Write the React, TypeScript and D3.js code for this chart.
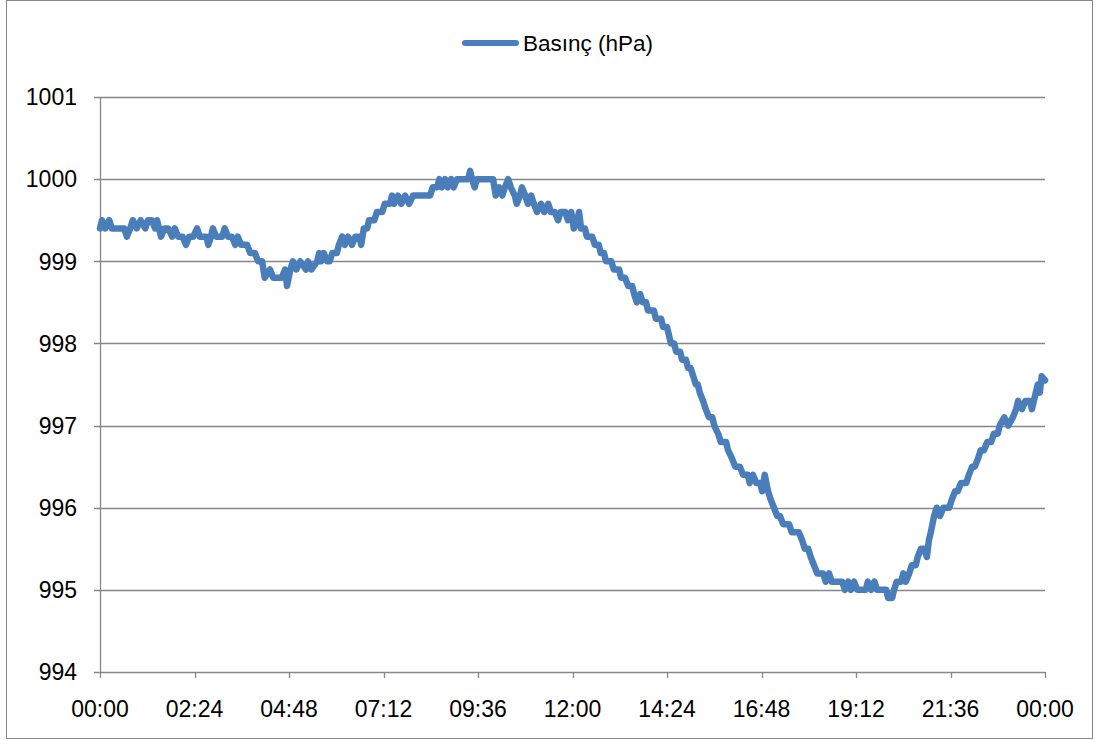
import React from "react";
import * as d3 from "d3";

// Time of day in minutes since 00:00
const minutes = [
  0, 3, 8, 14, 18, 27, 37, 41, 46, 50, 56, 62, 69, 73, 79, 84, 87, 90, 93, 98,
  104, 110, 114, 119, 126, 131, 136, 142, 148, 152, 162, 165, 169, 172, 177, 186, 190, 195, 201, 206,
  210, 215, 224, 229, 236, 241, 247, 251, 259, 264, 277, 282, 285, 290, 294, 299, 305, 314, 317, 322,
  331, 334, 337, 341, 346, 350, 354, 361, 364, 369, 373, 378, 384, 389, 395, 398, 402, 407, 410, 418,
  422, 430, 434, 442, 445, 448, 454, 459, 465, 471, 477, 503, 507, 514, 517, 521, 526, 530, 535, 539,
  544, 561, 564, 567, 571, 574, 599, 603, 608, 613,
  617, 622, 626, 632, 635, 640, 643, 648, 652, 657, 661, 666, 672, 677, 683, 687, 693, 698, 702, 709,
  713, 718, 722, 727, 730, 733, 739, 742, 750, 754, 760, 763, 768, 771, 779, 783, 791, 794, 800, 805,
  811, 814, 818, 823, 827, 832, 835, 844, 847, 850, 855, 858, 864, 867, 870, 875, 878, 884, 887,
  893, 896, 900, 904, 908, 911, 914, 919, 923, 928, 933, 936, 942, 946, 954, 957, 963, 968, 975, 980,
  987, 990, 995, 1000, 1006, 1009, 1013, 1018, 1022, 1027, 1032, 1036, 1041, 1050, 1054, 1065, 1070, 1074, 1079, 1083,
  1088, 1093, 1102, 1106, 1111, 1115, 1131, 1135, 1140, 1144, 1149, 1154, 1167, 1170, 1175, 1180, 1184, 1198, 1201, 1207,
  1210, 1214, 1221, 1224, 1228, 1233, 1237, 1243, 1246, 1251, 1256, 1260, 1263, 1266, 1271, 1275, 1280, 1285, 1294, 1298,
  1303, 1307, 1312, 1320, 1324, 1329, 1333, 1338, 1342, 1347, 1352, 1358, 1362, 1368, 1371, 1378, 1384, 1391, 1396, 1399,
  1405, 1410, 1417, 1420, 1423, 1426, 1429, 1432, 1435, 1440,
];

// Pressure (hPa)
const pressure = [
  999.4, 999.5, 999.4, 999.5, 999.4, 999.4, 999.4, 999.3, 999.4, 999.5, 999.4, 999.5, 999.4, 999.5, 999.5, 999.4, 999.5, 999.4, 999.3, 999.4,
  999.4, 999.3, 999.4, 999.3, 999.3, 999.2, 999.3, 999.3, 999.4, 999.3, 999.3, 999.2, 999.3, 999.4, 999.3, 999.3, 999.4, 999.3, 999.3, 999.2,
  999.3, 999.2, 999.2, 999.1, 999.1, 999.0, 999.0, 998.8, 998.9, 998.8, 998.8, 998.9, 998.7, 998.9, 999.0, 998.9, 999.0, 998.9, 999.0, 998.9,
  999.0, 999.1, 999.0, 999.1, 999.0, 999.0, 999.1, 999.1, 999.2, 999.3, 999.2, 999.3, 999.2, 999.3, 999.3, 999.2, 999.4, 999.4, 999.5, 999.5,
  999.6, 999.6, 999.7, 999.7, 999.8, 999.7, 999.8, 999.7, 999.8, 999.7, 999.8, 999.8, 999.9, 999.9, 1000.0, 999.9, 1000.0, 999.9, 1000.0, 999.9,
  1000.0, 1000.0, 1000.1, 1000.0, 999.9, 1000.0, 1000.0, 999.8, 999.9, 999.8,
  999.9, 1000.0, 999.9, 999.8, 999.7, 999.8, 999.9, 999.8, 999.7, 999.8, 999.7, 999.6, 999.7, 999.6, 999.7, 999.6, 999.6, 999.5, 999.6, 999.6,
  999.5, 999.6, 999.4, 999.5, 999.6, 999.4, 999.4, 999.3, 999.3, 999.2, 999.2, 999.1, 999.1, 999.0, 999.0, 998.9, 998.9, 998.8, 998.8, 998.7,
  998.7, 998.6, 998.5, 998.6, 998.5, 998.5, 998.4, 998.4, 998.3, 998.3, 998.3, 998.2, 998.2, 998.1, 998.0, 998.0, 997.9, 997.9, 997.8,
  997.8, 997.7, 997.7, 997.6, 997.5, 997.5, 997.4, 997.3, 997.2, 997.1, 997.1, 997.0, 996.9, 996.8, 996.8, 996.7, 996.6, 996.5, 996.5, 996.4,
  996.4, 996.3, 996.4, 996.3, 996.3, 996.2, 996.4, 996.2, 996.1, 996.0, 995.9, 995.9, 995.8, 995.8, 995.7, 995.7, 995.6, 995.5, 995.5, 995.4,
  995.3, 995.2, 995.2, 995.1, 995.2, 995.1, 995.1, 995.0, 995.1, 995.0, 995.1, 995.0, 995.0, 995.1, 995.0, 995.1, 995.0, 995.0, 994.9, 994.9,
  995.0, 995.1, 995.1, 995.2, 995.1, 995.2, 995.3, 995.3, 995.4, 995.5, 995.5, 995.4, 995.6, 995.7, 995.9, 996.0, 995.9, 996.0, 996.0, 996.1,
  996.2, 996.2, 996.3, 996.3, 996.4, 996.5, 996.5, 996.6, 996.7, 996.7, 996.8, 996.8, 996.9, 996.9, 997.0, 997.1, 997.0, 997.1, 997.2, 997.3,
  997.2, 997.3, 997.3, 997.2, 997.3, 997.4, 997.5, 997.4, 997.6, 997.55,
];

const yTicks = [994, 995, 996, 997, 998, 999, 1000, 1001];
const xTickMinutes = [0, 144, 288, 432, 576, 720, 864, 1008, 1152, 1296, 1440];
const xTickLabels = ["00:00", "02:24", "04:48", "07:12", "09:36", "12:00", "14:24", "16:48", "19:12", "21:36", "00:00"];
const seriesName = "Basınç (hPa)";

const W = 1099;
const H = 740;
const plot = { left: 100, right: 1045, top: 97, bottom: 672 };
const FONT = "'Liberation Sans', Arial, sans-serif";
const GRID = "#878787";
const BLUE = "#4a7ebb";

export default function App() {
  const x = d3.scaleLinear().domain([0, 1440]).range([plot.left, plot.right]);
  const y = d3.scaleLinear().domain([994, 1001]).range([plot.bottom, plot.top]);
  const data = minutes.map((m, i) => [m, pressure[i]] as [number, number]);
  const line = d3
    .line<[number, number]>()
    .x((d) => x(d[0]))
    .y((d) => y(d[1]));

  return (
    <svg
      width={W}
      height={H}
      style={{ position: "absolute", left: 0, top: 0, background: "#fff" }}
      fontFamily={FONT}
    >
      <rect x={6.5} y={0.5} width={1086} height={738} fill="#fff" stroke={GRID} strokeWidth={1} />
      {/* gridlines */}
      {yTicks.map((t) => (
        <line
          key={"g" + t}
          x1={plot.left - 6}
          x2={plot.right}
          y1={Math.round(y(t)) + 0.5}
          y2={Math.round(y(t)) + 0.5}
          stroke={GRID}
          strokeWidth={1.3}
        />
      ))}
      {/* y axis */}
      <line x1={plot.left + 0.5} x2={plot.left + 0.5} y1={plot.top} y2={plot.bottom} stroke={GRID} strokeWidth={1.3} />
      {/* x ticks */}
      {xTickMinutes.map((m, i) => (
        <line
          key={"xt" + i}
          x1={Math.round(x(m)) + 0.5}
          x2={Math.round(x(m)) + 0.5}
          y1={plot.bottom}
          y2={plot.bottom + 6}
          stroke={GRID}
          strokeWidth={1.3}
        />
      ))}
      {/* y labels */}
      {yTicks.map((t) => (
        <text key={"yl" + t} x={77} y={y(t)} dy="0.36em" textAnchor="end" fontSize={23} fill="#000">
          {t}
        </text>
      ))}
      {/* x labels */}
      {xTickMinutes.map((m, i) => (
        <text key={"xl" + i} x={x(m)} y={717} textAnchor="middle" fontSize={23} fill="#000">
          {xTickLabels[i]}
        </text>
      ))}
      {/* series */}
      <path
        d={line(data) || ""}
        fill="none"
        stroke={BLUE}
        strokeWidth={6.5}
        strokeLinejoin="round"
        strokeLinecap="round"
      />
      {/* legend */}
      <line x1={465} x2={516} y1={43} y2={43} stroke={BLUE} strokeWidth={6} strokeLinecap="round" />
      <text x={523} y={43} dy="0.36em" fontSize={22.5} fill="#000">
        {seriesName}
      </text>
    </svg>
  );
}
